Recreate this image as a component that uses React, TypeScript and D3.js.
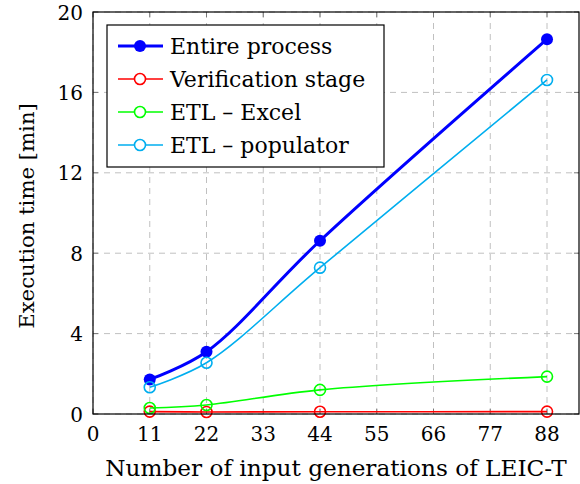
import React from "react";
import * as d3 from "d3";

const xValues = [11, 22, 44, 88];
const entireProcess = [1.72, 3.1, 8.62, 18.65];
const verificationStage = [0.12, 0.1, 0.11, 0.12];
const etlExcel = [0.3, 0.45, 1.2, 1.86];
const etlPopulator = [1.33, 2.55, 7.28, 16.62];
const xTicks = [0, 11, 22, 33, 44, 55, 66, 77, 88];
const yTicks = [0, 4, 8, 12, 16, 20];

const seriesNames = ["Entire process", "Verification stage", "ETL – Excel", "ETL – populator"];
const seriesColors = ["#0000ff", "#ff0000", "#00ff00", "#00aeef"];
const seriesData = [entireProcess, verificationStage, etlExcel, etlPopulator];

const W = 580, H = 484;
const L = 93, R = 579, T = 12, B = 414;
const FONT = '"DejaVu Serif"';

export default function App() {
  const x = d3.scaleLinear().domain([0, 94.2]).range([L, R]);
  const y = d3.scaleLinear().domain([0, 20]).range([B, T]);
  const line = d3
    .line<[number, number]>()
    .x((d) => x(d[0]))
    .y((d) => y(d[1]))
    .curve(d3.curveCatmullRom.alpha(0.5));

  const legX = 107, legY = 25, legW = 277, legH = 142;
  const rowY = [46, 79, 112, 145];

  return (
    <svg width={W} height={H} style={{ position: "absolute", left: 0, top: 0 }}>
      <rect width={W} height={H} fill="white" />
      {xTicks.map((t) => (
        <line key={"gx" + t} x1={x(t)} x2={x(t)} y1={T} y2={B} stroke="#c0c0c0" strokeWidth={1} strokeDasharray="6,5" />
      ))}
      {yTicks.map((t) => (
        <line key={"gy" + t} x1={L} x2={R} y1={y(t)} y2={y(t)} stroke="#c0c0c0" strokeWidth={1} strokeDasharray="6,5" />
      ))}
      {xTicks.map((t) => (
        <g key={"tx" + t}>
          <line x1={x(t)} x2={x(t)} y1={B} y2={B - 5} stroke="#777" strokeWidth={1} />
          <line x1={x(t)} x2={x(t)} y1={T} y2={T + 5} stroke="#777" strokeWidth={1} />
        </g>
      ))}
      {yTicks.map((t) => (
        <g key={"ty" + t}>
          <line x1={L} x2={L + 5} y1={y(t)} y2={y(t)} stroke="#777" strokeWidth={1} />
          <line x1={R} x2={R - 5} y1={y(t)} y2={y(t)} stroke="#777" strokeWidth={1} />
        </g>
      ))}
      {seriesData.map((vals, i) => {
        const pts = xValues.map((xv, j) => [xv, vals[j]] as [number, number]);
        return (
          <g key={"s" + i}>
            <path d={line(pts) || ""} fill="none" stroke={seriesColors[i]} strokeWidth={i === 0 ? 3 : 1.6} />
            {pts.map((p, j) =>
              i === 0 ? (
                <circle key={j} cx={x(p[0])} cy={y(p[1])} r={6} fill={seriesColors[i]} />
              ) : (
                <circle key={j} cx={x(p[0])} cy={y(p[1])} r={5.5} fill="none" stroke={seriesColors[i]} strokeWidth={1.6} />
              )
            )}
          </g>
        );
      })}
      <rect x={L} y={T} width={R - L} height={B - T} fill="none" stroke="black" strokeWidth={1.2} />
      {xTicks.map((t) => (
        <text key={"lx" + t} x={x(t)} y={441} textAnchor="middle" style={{ fontFamily: FONT, fontSize: 20 }}>
          {t}
        </text>
      ))}
      {yTicks.map((t) => (
        <text key={"ly" + t} x={L - 10} y={y(t) + 7.5} textAnchor="end" style={{ fontFamily: FONT, fontSize: 20 }}>
          {t}
        </text>
      ))}
      <text x={(L + R) / 2} y={476} textAnchor="middle" style={{ fontFamily: FONT, fontSize: 23.2 }}>
        Number of input generations of LEIC-T
      </text>
      <text
        transform={`translate(34,${(T + B) / 2 + 3}) rotate(-90)`}
        textAnchor="middle"
        style={{ fontFamily: FONT, fontSize: 21.2 }}
      >
        Execution time [min]
      </text>
      <rect x={legX} y={legY} width={legW} height={legH} fill="white" stroke="black" strokeWidth={1.2} />
      {seriesNames.map((name, i) => (
        <g key={"lg" + i}>
          <line x1={118} x2={163} y1={rowY[i]} y2={rowY[i]} stroke={seriesColors[i]} strokeWidth={i === 0 ? 3 : 1.6} />
          {i === 0 ? (
            <circle cx={140} cy={rowY[i]} r={6} fill={seriesColors[i]} />
          ) : (
            <circle cx={140} cy={rowY[i]} r={5.5} fill="white" stroke={seriesColors[i]} strokeWidth={1.6} />
          )}
          <text x={170} y={rowY[i] + 7.5} style={{ fontFamily: FONT, fontSize: 22 }}>
            {name}
          </text>
        </g>
      ))}
    </svg>
  );
}
